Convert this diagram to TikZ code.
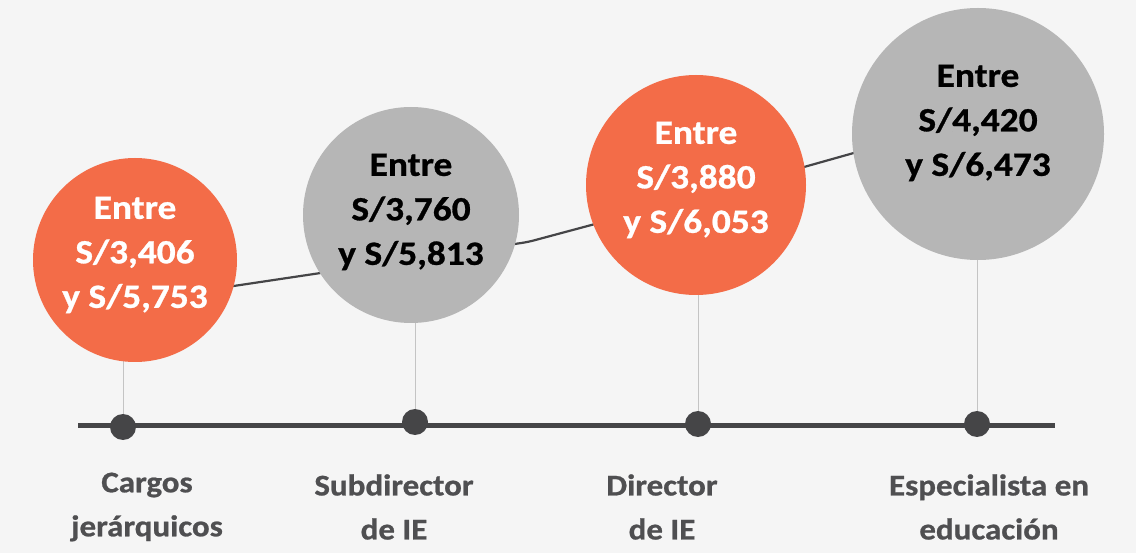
\documentclass[tikz,border=0pt]{standalone}
\usepackage{fontspec}
\setmainfont{Carlito}[FakeStretch=1.1, BoldFeatures={FakeBold=0.8}]
\pgfdeclarelayer{bg}
\pgfsetlayers{bg,main}
\definecolor{bgc}{HTML}{F5F5F5}
\definecolor{orng}{HTML}{F36C48}
\definecolor{grayc}{HTML}{B6B6B6}
\definecolor{linec}{HTML}{454547}
\definecolor{vline}{HTML}{C4C4C4}
\definecolor{labc}{HTML}{4F4F51}
\tikzset{
  bubble/.style={circle, inner sep=0pt, draw=none},
  bubtext/.style={align=center, font=\fontsize{34}{44.5}\selectfont\bfseries, inner sep=0pt},
  lab/.style={align=center, font=\fontsize{30}{44}\selectfont\bfseries, text=labc, inner sep=0pt},
  dotn/.style={circle, fill=linec, inner sep=0pt, minimum width=24pt, minimum height=26pt},
}
\begin{document}
\begin{tikzpicture}[x=1pt,y=-1pt]
\useasboundingbox (0,0) rectangle (1136,553);
% dots
\node[dotn] (d1) at (123,427) {};
\node[dotn] (d2) at (415,422) {};
\node[dotn] (d3) at (698,424) {};
\node[dotn] (d4) at (977,424) {};
% circles
\node[bubble, fill=orng, minimum size=204pt] (c1) at (135,260) {};
\node[bubble, fill=grayc, minimum size=216pt] (c2) at (411,215) {};
\node[bubble, fill=orng, minimum size=220pt] (c3) at (696,185) {};
\node[bubble, fill=grayc, minimum size=252pt] (c4) at (978,134) {};
% circle texts
\node[bubtext, text=white] (t1) at (135,255) {Entre\\S/3,406\\y S/5,753};
\node[bubtext, text=black] (t2) at (411,212) {Entre\\S/3,760\\y S/5,813};
\node[bubtext, text=white] (t3) at (696,180) {Entre\\S/3,880\\y S/6,053};
\node[bubtext, text=black] (t4) at (978,123) {Entre\\S/4,420\\y S/6,473};
% labels
\node[lab] (l1) at (147,507) {Cargos\\jerárquicos};
\node[lab] (l2) at (394,507) {Subdirector\\de IE};
\node[lab] (l3) at (662,507) {Director\\de IE};
\node[lab] (l4) at (989,507) {Especialista en\\educación};
% polyline vertices
\coordinate (p1) at (140,300);
\coordinate (p2) at (528,242);
\coordinate (p3) at (733,187);
\coordinate (p4) at (978,118);
\coordinate (tl) at (78,426);
\coordinate (tr) at (1055,426);
\begin{pgfonlayer}{bg}
  \fill[bgc] (0,0) rectangle (1136,553);
  \draw[linec, line width=2.2pt, rounded corners=6pt] (p1) -- (p2) -- (p3) -- (p4);
  \foreach \i in {1,2,3,4} {
    \draw[vline, line width=1pt] (d\i.center) -- (d\i |- c\i.center);
  }
  \draw[linec, line width=5pt] (tl) -- (tr);
\end{pgfonlayer}
\end{tikzpicture}
\end{document}
